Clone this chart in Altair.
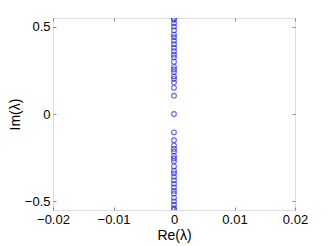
import altair as alt
import pandas as pd

im_pos = [0.105, 0.15, 0.18, 0.20, 0.215, 0.24, 0.255, 0.27, 0.30, 0.325, 0.34, 0.36,
          0.38, 0.40, 0.42, 0.44, 0.455, 0.48, 0.50, 0.52, 0.54, 0.548]
im_vals = [0.0] + im_pos + [-v for v in im_pos]
re_vals = [0.0] * len(im_vals)

df = pd.DataFrame({"re": re_vals, "im": im_vals})

x_ticks = [-0.02, -0.01, 0, 0.01, 0.02]
y_ticks = [-0.5, 0, 0.5]

font = "Liberation Sans"

xscale = alt.Scale(domain=[-0.02, 0.02], nice=False, zero=False, padding=0)
yscale = alt.Scale(domain=[-0.55, 0.55], nice=False, zero=False, padding=0)

main = alt.Chart(df).mark_point(
    shape="circle", filled=False, color="#1f1fff", size=22, strokeWidth=1.1, clip=True
).encode(
    x=alt.X("re:Q", scale=xscale, title="Re(λ)",
            axis=alt.Axis(values=x_ticks, orient="bottom", format="~g", grid=False,
                          domain=False, tickSize=3, offset=-3, tickColor="#888",
                          labelPadding=3, labelFont=font, labelFontSize=13, labelColor="black",
                          labelFlush=False, labelOverlap=False,
                          titleFont=font, titleFontSize=14, titleFontWeight="normal",
                          titleColor="black", titlePadding=2)),
    y=alt.Y("im:Q", scale=yscale, title="Im(λ)",
            axis=alt.Axis(values=y_ticks, orient="left", format="~g", grid=False,
                          domain=False, tickSize=3, offset=-3, tickColor="#888",
                          labelPadding=3, labelFont=font, labelFontSize=13, labelColor="black",
                          labelFlush=False, labelOverlap=False,
                          titleFont=font, titleFontSize=14, titleFontWeight="normal",
                          titleColor="black", titlePadding=2)),
)

mirror = alt.Chart(df).mark_point(opacity=0).encode(
    x=alt.X("re:Q", scale=xscale, title=None,
            axis=alt.Axis(values=x_ticks, orient="top", labels=False, grid=False,
                          domain=False, tickSize=3, offset=-3, tickColor="#888")),
    y=alt.Y("im:Q", scale=yscale, title=None,
            axis=alt.Axis(values=y_ticks, orient="right", labels=False, grid=False,
                          domain=False, tickSize=3, offset=-3, tickColor="#888")),
)

chart = alt.layer(main, mirror).resolve_axis(x="independent", y="independent").properties(
    width=242, height=192, autosize=alt.AutoSizeParams(type="none"),
    padding={"left": 45, "top": 10, "right": 24, "bottom": 36},
).configure_view(stroke="black", strokeWidth=1).configure(background="white")

chart.save("out.html", embed_options={"renderer": "svg", "actions": False})
